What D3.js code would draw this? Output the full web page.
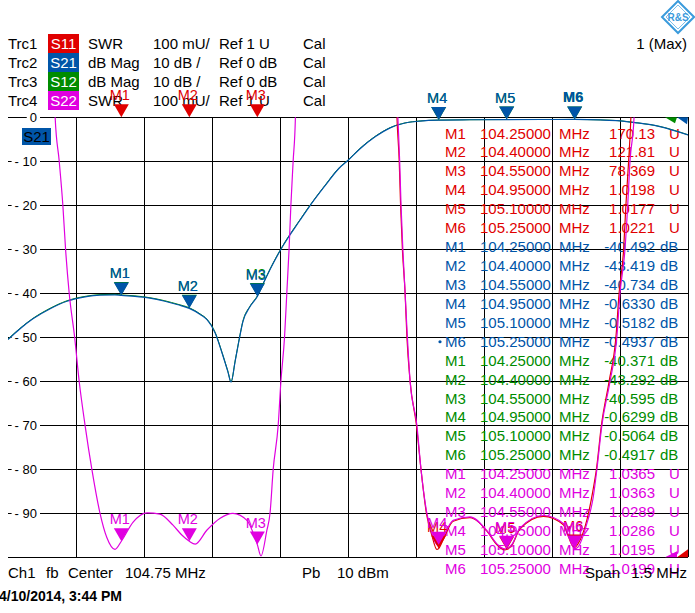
<!DOCTYPE html>
<html><head><meta charset="utf-8">
<script src="https://cdn.jsdelivr.net/npm/d3@7"></script>
<style>
body{margin:0;background:#fff}
svg{display:block}
text{font-family:Arial,"Liberation Sans",sans-serif}
</style></head>
<body><svg id="c" width="695" height="613"></svg>
<script>
// ---------- data ----------
const freqDomain = [104.0, 105.5];
const gridFreqs = [104.00,104.15,104.30,104.45,104.60,104.75,104.90,105.05,105.20,105.35,105.50];
const dbTicks = [0,-10,-20,-30,-40,-50,-60,-70,-80,-90,-100];
const markerNames = ["M1","M2","M3","M4","M5","M6"];
const markerFreqs = [104.25,104.40,104.55,104.95,105.10,105.25];

const traceNames = ["Trc1","Trc2","Trc3","Trc4"];
const traceParams = ["S11","S21","S12","S22"];
const traceFormats = ["SWR","dB Mag","dB Mag","SWR"];
const traceScales = ["100 mU/","10 dB /","10 dB /","100 mU/"];
const traceRefs = ["Ref 1 U","Ref 0 dB","Ref 0 dB","Ref 1 U"];
const traceColors = ["#e00000","#0055a8","#008c00","#e000e0"];

// S21 / S12 (dB)
const s21Freq = [104.000,104.026,104.055,104.093,104.130,104.170,104.203,104.236,104.250,104.280,104.313,104.346,104.375,104.400,104.424,104.439,104.457,104.472,104.485,104.492,104.501,104.510,104.518,104.534,104.550,104.565,104.578,104.606,104.644,104.664,104.699,104.732,104.748,104.776,104.809,104.843,104.876,104.909,104.950,105.019,105.100,105.174,105.250,105.306,105.350,105.383,105.438,105.500];
const s21Db = [-50.5,-48.1,-45.8,-43.5,-41.8,-40.8,-40.4,-40.35,-40.49,-40.7,-41.1,-41.8,-42.6,-43.42,-44.8,-46.0,-49.0,-53.5,-57.8,-60.2,-55.5,-50.5,-46.5,-43.0,-40.73,-37.4,-34.6,-29.3,-23.4,-20.4,-15.6,-11.4,-10.0,-7.2,-4.5,-2.4,-1.3,-0.85,-0.633,-0.56,-0.518,-0.50,-0.494,-0.6,-0.8,-1.2,-2.1,-4.0];
const s12Db = [-50.4,-48.0,-45.7,-43.4,-41.7,-40.7,-40.3,-40.23,-40.37,-40.58,-41.0,-41.7,-42.5,-43.29,-44.7,-45.9,-48.9,-53.4,-57.7,-60.1,-55.4,-50.4,-46.4,-42.9,-40.60,-37.3,-34.5,-29.2,-23.3,-20.3,-15.5,-11.3,-9.9,-7.1,-4.4,-2.35,-1.27,-0.83,-0.630,-0.55,-0.506,-0.49,-0.492,-0.59,-0.79,-1.19,-2.08,-3.98];

// S22 (SWR)
const s22Freq = [104.000,104.099,104.104,104.113,104.121,104.127,104.135,104.147,104.157,104.170,104.185,104.203,104.218,104.236,104.250,104.276,104.307,104.335,104.364,104.384,104.400,104.413,104.439,104.468,104.496,104.527,104.550,104.558,104.571,104.578,104.585,104.596,104.602,104.610,104.615,104.620,104.624,104.629,104.634,104.638,104.750,104.851,104.860,104.864,104.867,104.871,104.876,104.881,104.887,104.902,104.911,104.924,104.935,104.946,104.950,104.957,104.982,105.019,105.056,105.079,105.096,105.100,105.112,105.129,105.181,105.225,105.250,105.257,105.277,105.291,105.299,105.310,105.328,105.343,105.350,105.361,105.367,105.372,105.381,105.388,105.500];
const s22Swr = [5.0,2.30,2.00,1.90,1.80,1.70,1.60,1.50,1.40,1.30,1.20,1.10,1.045,1.018,1.0365,1.080,1.101,1.098,1.073,1.050,1.0363,1.030,1.062,1.089,1.100,1.084,1.0289,1.003,1.061,1.100,1.200,1.300,1.400,1.500,1.600,1.700,1.800,1.900,2.000,2.300,5.0,2.30,2.00,1.90,1.80,1.70,1.60,1.50,1.40,1.30,1.20,1.10,1.055,1.029,1.0286,1.040,1.084,1.092,1.061,1.030,1.019,1.0195,1.030,1.066,1.095,1.077,1.0199,1.023,1.077,1.137,1.20,1.30,1.40,1.50,1.60,1.70,1.80,1.90,2.00,2.30,5.0];

// S11 (SWR)
const s11Freq = [104.000,104.250,104.400,104.550,104.851,104.858,104.863,104.866,104.870,104.876,104.880,104.887,104.901,104.911,104.923,104.935,104.946,104.950,104.960,104.982,105.019,105.056,105.079,105.096,105.100,105.112,105.129,105.181,105.225,105.246,105.250,105.257,105.277,105.290,105.298,105.309,105.326,105.341,105.348,105.358,105.363,105.369,105.374,105.381,105.500];
const s11Swr = [200,170.13,121.81,78.369,2.30,2.00,1.90,1.80,1.70,1.60,1.50,1.40,1.30,1.20,1.10,1.050,1.018,1.0198,1.040,1.082,1.090,1.060,1.028,1.017,1.0177,1.028,1.064,1.093,1.074,1.025,1.0221,1.030,1.085,1.150,1.20,1.30,1.40,1.50,1.60,1.70,1.80,1.90,2.00,2.30,8.0];

// marker readouts
const s11Marker = [170.13,121.81,78.369,1.0198,1.0177,1.0221];
const s21Marker = [-40.492,-43.419,-40.734,-0.6330,-0.5182,-0.4937];
const s12Marker = [-40.371,-43.292,-40.595,-0.6299,-0.5064,-0.4917];
const s22Marker = [1.0365,1.0363,1.0289,1.0286,1.0195,1.0199];
const s11MarkerTxt = ["170.13","121.81","78.369","1.0198","1.0177","1.0221"];
const s21MarkerTxt = ["-40.492","-43.419","-40.734","-0.6330","-0.5182","-0.4937"];
const s12MarkerTxt = ["-40.371","-43.292","-40.595","-0.6299","-0.5064","-0.4917"];
const s22MarkerTxt = ["1.0365","1.0363","1.0289","1.0286","1.0195","1.0199"];

// ---------- drawing ----------
const svg = d3.select("#c");
const PL = 8, PR = 688, PT = 117.3, PB = 557.3;
const x = d3.scaleLinear().domain(freqDomain).range([PL, PR]);
const yDb = d3.scaleLinear().domain([-100, 0]).range([PB, PT]);
const ySwr = d3.scaleLinear().domain([1, 2]).range([PB, PT]);
const RED = traceColors[0], BLUE = traceColors[1], GREEN = traceColors[2], MAG = traceColors[3];

// header
const hdr = svg.append("g").attr("font-size", 15);
traceNames.forEach((t, i) => {
  const by = 49 + i * 19;
  hdr.append("text").attr("x", 8).attr("y", by).text(t);
  hdr.append("rect").attr("x", 48).attr("y", 34 + i * 19).attr("width", 31).attr("height", 19).attr("fill", traceColors[i]);
  hdr.append("text").attr("x", 63.5).attr("y", by).attr("text-anchor", "middle").attr("fill", "#fff").text(traceParams[i]);
  hdr.append("text").attr("x", 88).attr("y", by).text(traceFormats[i]);
  hdr.append("text").attr("x", 153).attr("y", by).text(traceScales[i]);
  hdr.append("text").attr("x", 219).attr("y", by).text(traceRefs[i]);
  hdr.append("text").attr("x", 303).attr("y", by).text("Cal");
});
svg.append("text").attr("x", 687).attr("y", 49).attr("font-size", 15).attr("text-anchor", "end").text("1 (Max)");

// logo
const lg = svg.append("g").attr("transform", "translate(678,17)");
lg.append("path").attr("d", "M0,-16 L16,0 L0,16 L-16,0 Z").attr("fill", "none").attr("stroke", "#3a9bdc").attr("stroke-width", 2);
lg.append("path").attr("d", "M0,-12 L12,0 L0,12 L-12,0 Z").attr("fill", "none").attr("stroke", "#7cc0ea").attr("stroke-width", 1);
lg.append("text").attr("x", 0).attr("y", 4).attr("text-anchor", "middle").attr("font-size", 10).attr("font-weight", "bold").attr("fill", "#3a9bdc").text("R&S");

// grid
const grid = svg.append("g").attr("stroke", "#000").attr("stroke-width", 1).attr("shape-rendering", "crispEdges");
dbTicks.forEach(d => grid.append("line").attr("x1", PL).attr("x2", PR).attr("y1", yDb(d)).attr("y2", yDb(d)));
gridFreqs.slice(1).forEach(f => grid.append("line").attr("x1", x(f)).attr("x2", x(f)).attr("y1", PT).attr("y2", PB));

// y labels
dbTicks.slice(0, 10).forEach(d => {
  const g = svg.append("g");
  const bg = g.append("rect").attr("fill", "#fff");
  const t = g.append("text").attr("x", 37).attr("y", yDb(d) + 4.5).attr("font-size", 13).attr("text-anchor", "end").text(d === 0 ? "0" : "- " + (-d));
  const bb = t.node().getBBox();
  bg.attr("x", bb.x - 3).attr("y", yDb(d) - 2).attr("width", 40 - bb.x + 3).attr("height", 4);
});

// S21 box
svg.append("rect").attr("x", 22).attr("y", 128).attr("width", 29).attr("height", 17).attr("fill", BLUE);
svg.append("text").attr("x", 36.5).attr("y", 142).attr("font-size", 15).attr("text-anchor", "middle").attr("fill", "#000").text("S21");

// marker list
const listRows = [];
[[s11MarkerTxt, RED, "U"], [s21MarkerTxt, BLUE, "dB"], [s12MarkerTxt, GREEN, "dB"], [s22MarkerTxt, MAG, "U"]].forEach(([vals, col, unit], ti) => {
  vals.forEach((v, mi) => listRows.push({name: markerNames[mi], f: markerFreqs[mi], v, col, unit, active: ti === 1 && mi === 5}));
});
const lst = svg.append("g").attr("font-size", 15);
listRows.forEach((r, i) => {
  const by = 138.5 + i * 18.93;
  lst.append("text").attr("x", 445).attr("y", by).attr("fill", r.col).text(r.name);
  if (r.active) lst.append("circle").attr("cx", 440).attr("cy", by - 5).attr("r", 1.6).attr("fill", r.col);
  lst.append("text").attr("x", 480).attr("y", by).attr("fill", r.col).text(r.f.toFixed(5));
  lst.append("text").attr("x", 559).attr("y", by).attr("fill", r.col).text("MHz");
  lst.append("text").attr("x", 655).attr("y", by).attr("fill", r.col).attr("text-anchor", "end").text(r.v);
  lst.append("text").attr("x", r.unit === "U" ? 669 : 660).attr("y", by).attr("fill", r.col).text(r.unit);
});

// traces
svg.append("defs").append("clipPath").attr("id", "plotclip").append("rect").attr("x", PL).attr("y", PT).attr("width", PR - PL).attr("height", PB - PT + 1);
const tr = svg.append("g").attr("clip-path", "url(#plotclip)").attr("fill", "none").attr("stroke-width", 1.2);
const lineOf = (fs, vs, ys) => d3.line().x((d, i) => x(fs[i])).y((d, i) => ys(vs[i])).curve(d3.curveMonotoneX)(vs);
tr.append("path").attr("d", lineOf(s21Freq, s12Db, yDb)).attr("stroke", GREEN).attr("stroke-width", 1);
tr.append("path").attr("d", lineOf(s21Freq, s21Db, yDb)).attr("stroke", BLUE);
tr.append("path").attr("d", lineOf(s11Freq, s11Swr, ySwr)).attr("stroke", RED);
tr.append("path").attr("d", lineOf(s22Freq, s22Swr, ySwr)).attr("stroke", MAG);

// corner indicators
svg.append("path").attr("d", `M${PR-23},${PT} L${PR-11},${PT} L${PR-13},${PT+6} Z`).attr("fill", GREEN);
svg.append("path").attr("d", `M${PR-11},${PT} L${PR},${PT} L${PR-1},${PT+7} Z`).attr("fill", BLUE);
svg.append("path").attr("d", `M${PR-23},${PB} L${PR-11},${PB-6} L${PR-11},${PB} Z`).attr("fill", MAG);
svg.append("path").attr("d", `M${PR-11},${PB} L${PR},${PB-8} L${PR},${PB} Z`).attr("fill", RED);

// markers
const mk = svg.append("g");
function marker(f, yTip, col, label, bold) {
  const cx = x(f);
  mk.append("path").attr("d", `M${cx-7.5},${yTip-13} L${cx+7.5},${yTip-13} L${cx},${yTip} Z`).attr("fill", col);
  mk.append("text").attr("x", cx - 1.5).attr("y", yTip - 17).attr("text-anchor", "middle").attr("font-size", 14.5)
    .attr("font-weight", bold ? "bold" : "normal").attr("fill", col).text(label);
}
const clampTop = y => Math.max(PT, y);
markerFreqs.forEach((f, i) => {
  marker(f, clampTop(yDb(s12Marker[i])), GREEN, markerNames[i], i === 5);
  marker(f, clampTop(yDb(s21Marker[i])), BLUE, markerNames[i], i === 5);
});
markerFreqs.forEach((f, i) => {
  marker(f, clampTop(ySwr(s11Marker[i])), RED, markerNames[i], false);
});
markerFreqs.forEach((f, i) => {
  marker(f, clampTop(ySwr(s22Marker[i])), MAG, markerNames[i], false);
});

// footer
const ft = svg.append("g").attr("font-size", 15);
ft.append("text").attr("x", 8).attr("y", 578).text("Ch1");
ft.append("text").attr("x", 46).attr("y", 578).text("fb");
ft.append("text").attr("x", 68).attr("y", 578).text("Center");
ft.append("text").attr("x", 125).attr("y", 578).text("104.75 MHz");
ft.append("text").attr("x", 302).attr("y", 578).text("Pb");
ft.append("text").attr("x", 337).attr("y", 578).text("10 dBm");
ft.append("text").attr("x", 585).attr("y", 578).text("Span");
ft.append("text").attr("x", 687).attr("y", 578).attr("text-anchor", "end").text("1.5 MHz");
svg.append("text").attr("x", -1).attr("y", 601).attr("font-size", 14).attr("font-weight", "bold").text("4/10/2014, 3:44 PM");
</script></body></html>
